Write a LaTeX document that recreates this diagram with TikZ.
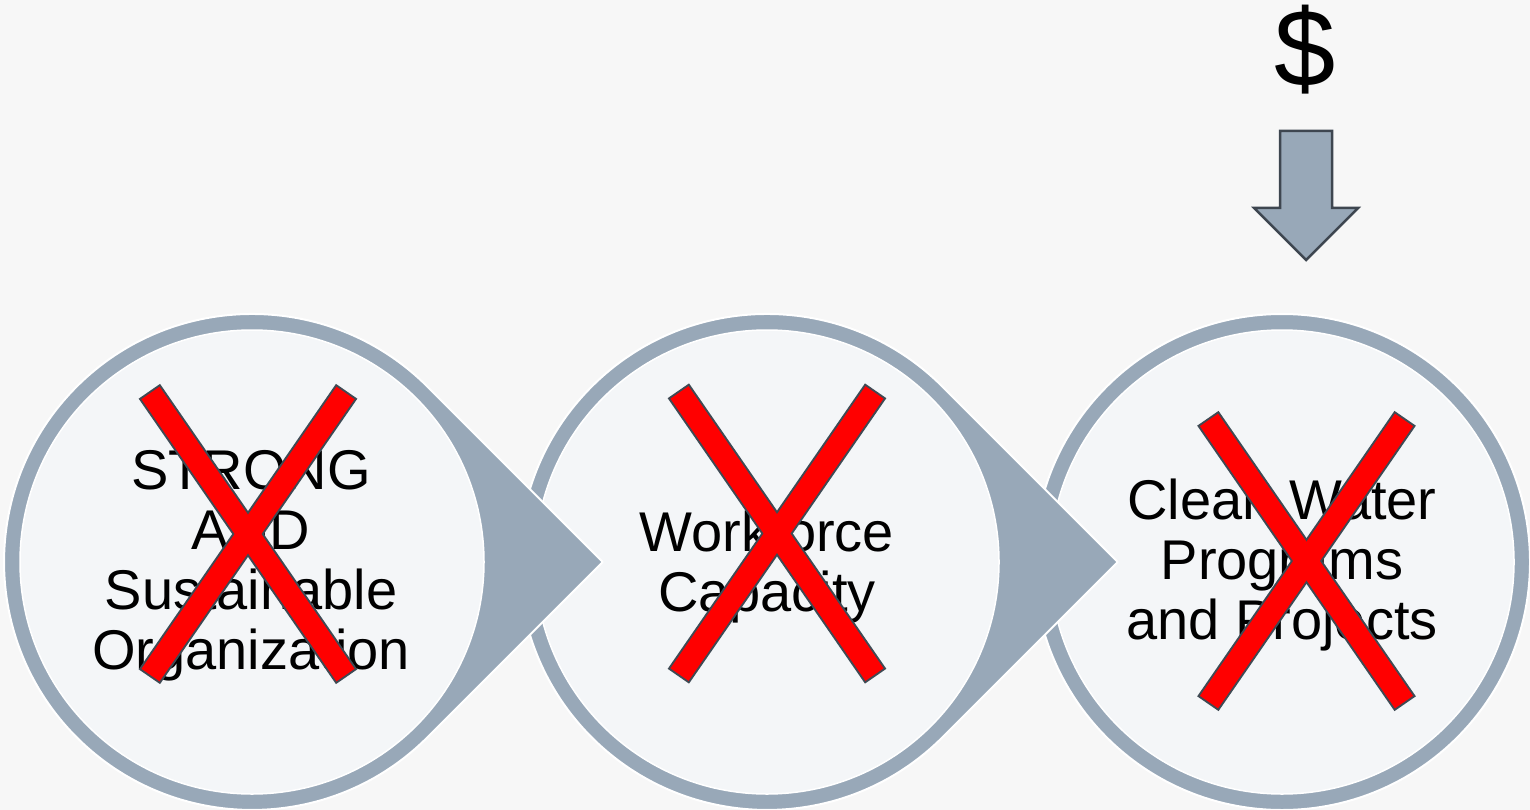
\documentclass[tikz,border=0pt]{standalone}
\usepackage{fontspec}
\setmainfont{Liberation Sans}
\definecolor{bg}{HTML}{F7F7F7}
\definecolor{ring}{HTML}{98A8B8}
\definecolor{disc}{HTML}{F4F6F8}
\definecolor{xline}{HTML}{3F4A54}
\definecolor{arrline}{HTML}{3E4650}
\begin{document}
\begin{tikzpicture}[x=1pt,y=-1pt,
  ringshape/.style={fill=ring, draw=white, line width=2pt, line join=round},
  discshape/.style={circle, fill=disc, draw=white, line width=1.5pt, minimum size=464pt, inner sep=0pt},
  stagetext/.style={font=\fontsize{56}{60}\selectfont, align=center, inner sep=0pt, text=black},
  xbar/.style={rectangle, minimum width=22pt, minimum height=343pt, inner sep=0pt},
  xedge/.style={xbar, draw=xline, line width=4pt, fill=red},
  xfill/.style={xbar, fill=red},
]
\fill[bg] (0,0) rectangle (1530,810);
\useasboundingbox (0,0) rectangle (1530,810);

\draw[ringshape] (1282,562) circle[radius=248];
\node[discshape] (d3) at (1282,562) {};
\foreach \n/\cx in {2/767,1/252} {
  \draw[ringshape] (\cx+350.7,562) -- (\cx+175.4,562-175.4)
     arc[start angle=-45, end angle=-315, radius=248] -- cycle;
  \node[discshape] (d\n) at (\cx,562) {};
}

\node[stagetext] (t1) at (251,566) {STRONG\\AND\\Sustainable\\Organization};
\node[stagetext] (t2) at (767,567.5) {Workforce\\Capacity};
\node[stagetext] (t3) at (1282,565.5) {Clean Water\\Programs\\and Projects};

\foreach \n/\x/\y in {1/248/534, 2/777/533.5, 3/1306.5/561} {
  \node[xedge, rotate=34.65] (xa\n) at (\x,\y) {};
  \node[xedge, rotate=-34.65] (xb\n) at (\x,\y) {};
  \node[xfill, rotate=34.65] (xaf\n) at (\x,\y) {};
  \node[xfill, rotate=-34.65] (xbf\n) at (\x,\y) {};
}

\node[font=\fontsize{110}{110}\selectfont, anchor=base, inner sep=0pt] (dollar) at (1305,87) {\$};
\draw[fill=ring, draw=arrline, line width=2.5pt, line join=miter]
  (1280,131) -- (1332,131) -- (1332,208) -- (1358,208) -- (1306,260) -- (1254,208) -- (1280,208) -- cycle;
\end{tikzpicture}
\end{document}
